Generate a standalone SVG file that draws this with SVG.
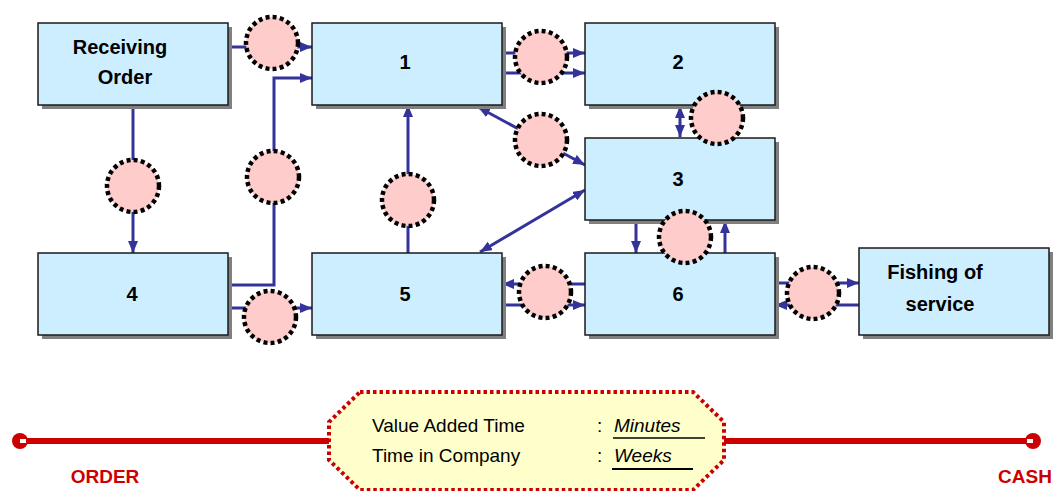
<svg xmlns="http://www.w3.org/2000/svg" width="1056" height="491" viewBox="0 0 1056 491">
  <defs>
    <marker id="arr" viewBox="0 0 12 10" refX="12" refY="5" markerWidth="12" markerHeight="10" markerUnits="userSpaceOnUse" orient="auto-start-reverse">
      <path d="M0,0 L12,5 L0,10 Z" fill="#333399"/>
    </marker>
    <style>
      .shadow { fill: #808080; }
      .box { fill: #cceeff; stroke: #1a1a1a; stroke-width: 1.5; }
      .lbl { font-family: "Liberation Sans", Arial, sans-serif; font-weight: bold; font-size: 20px; fill: #000; text-anchor: middle; }
      .conn { fill: none; stroke: #333399; stroke-width: 3; }
      .wait { fill: #ffcccc; stroke: #000; stroke-width: 4.5; stroke-dasharray: 4 3.2; }
      .legend { font-family: "Liberation Sans", Arial, sans-serif; font-size: 19px; fill: #000; }
      .red { font-family: "Liberation Sans", Arial, sans-serif; font-weight: bold; font-size: 19px; fill: #cc0000; text-anchor: middle; }
    </style>
  </defs>

  <!-- process connectors -->
  <g id="connectors">
    <path class="conn" d="M228,47 H312" marker-end="url(#arr)"/>
    <path class="conn" d="M228,285 H274 V78 H312" marker-end="url(#arr)"/>
    <path class="conn" d="M228,308 H312" marker-end="url(#arr)"/>
    <path class="conn" d="M133,105 V253" marker-end="url(#arr)"/>
    <path class="conn" d="M408,253 V105" marker-end="url(#arr)"/>
    <path class="conn" d="M502,53 H585" marker-end="url(#arr)"/>
    <path class="conn" d="M502,73 H585" marker-end="url(#arr)"/>
    <path class="conn" d="M680,106 V137" marker-start="url(#arr)" marker-end="url(#arr)"/>
    <path class="conn" d="M478,107 L585,165" marker-start="url(#arr)" marker-end="url(#arr)"/>
    <path class="conn" d="M585,190 L480,252" marker-start="url(#arr)" marker-end="url(#arr)"/>
    <path class="conn" d="M636,221 V253" marker-end="url(#arr)"/>
    <path class="conn" d="M725,253 V221" marker-end="url(#arr)"/>
    <path class="conn" d="M585,284 H502" marker-end="url(#arr)"/>
    <path class="conn" d="M502,305 H585" marker-end="url(#arr)"/>
    <path class="conn" d="M775,283 H859" marker-end="url(#arr)"/>
    <path class="conn" d="M859,305 H775" marker-end="url(#arr)"/>
  </g>

  <g id="node-receiving">
    <rect class="shadow" x="42" y="27" width="190" height="82"/>
    <rect class="box" x="38" y="23" width="190" height="82"/>
    <text class="lbl" x="120" y="54">Receiving</text>
    <text class="lbl" x="125" y="84">Order</text>
  </g>
  <g id="node-1">
    <rect class="shadow" x="316" y="27" width="190" height="82"/>
    <rect class="box" x="312" y="23" width="190" height="82"/>
    <text class="lbl" x="405" y="69">1</text>
  </g>
  <g id="node-2">
    <rect class="shadow" x="589" y="27" width="190" height="82"/>
    <rect class="box" x="585" y="23" width="190" height="82"/>
    <text class="lbl" x="678" y="69">2</text>
  </g>
  <g id="node-3">
    <rect class="shadow" x="589" y="142" width="190" height="82"/>
    <rect class="box" x="585" y="138" width="190" height="82"/>
    <text class="lbl" x="678" y="186">3</text>
  </g>
  <g id="node-4">
    <rect class="shadow" x="42" y="257" width="190" height="82"/>
    <rect class="box" x="38" y="253" width="190" height="82"/>
    <text class="lbl" x="132" y="301">4</text>
  </g>
  <g id="node-5">
    <rect class="shadow" x="316" y="257" width="190" height="82"/>
    <rect class="box" x="312" y="253" width="190" height="82"/>
    <text class="lbl" x="405" y="301">5</text>
  </g>
  <g id="node-6">
    <rect class="shadow" x="589" y="257" width="190" height="82"/>
    <rect class="box" x="585" y="253" width="190" height="82"/>
    <text class="lbl" x="678" y="301">6</text>
  </g>
  <g id="node-fishing">
    <rect class="shadow" x="863" y="252" width="190" height="87"/>
    <rect class="box" x="859" y="248" width="190" height="87"/>
    <text class="lbl" x="935" y="279">Fishing of</text>
    <text class="lbl" x="940" y="311">service</text>
  </g>

  <!-- waiting points -->
  <g id="waits">
    <circle class="wait" cx="272" cy="43" r="26"/>
    <circle class="wait" cx="541" cy="57" r="26"/>
    <circle class="wait" cx="717" cy="118" r="26"/>
    <circle class="wait" cx="541" cy="140" r="26"/>
    <circle class="wait" cx="133" cy="186" r="26"/>
    <circle class="wait" cx="273" cy="177" r="26"/>
    <circle class="wait" cx="408" cy="200" r="26"/>
    <circle class="wait" cx="270" cy="317" r="26"/>
    <circle class="wait" cx="545" cy="292" r="26"/>
    <circle class="wait" cx="685" cy="237" r="26"/>
    <circle class="wait" cx="813" cy="293" r="26"/>
  </g>

  <!-- order-to-cash timeline -->
  <g id="timeline">
    <line x1="20" y1="441" x2="1033" y2="441" stroke="#cc0000" stroke-width="6"/>
    <circle cx="20" cy="441" r="8" fill="#cc0000"/>
    <rect x="20" y="439" width="6" height="4" fill="#fff"/>
    <circle cx="1033" cy="441" r="8" fill="#cc0000"/>
    <rect x="1027" y="439" width="6" height="4" fill="#fff"/>
    <text class="red" x="105" y="483">ORDER</text>
    <text class="red" x="1025" y="483">CASH</text>
  </g>

  <g id="legend">
    <path d="M360,392 H693 L724,422 V460 L693,490 H360 L329,460 V422 Z" fill="#ffffcc" stroke="#cc0000" stroke-width="4" stroke-dasharray="3.5 3"/>
    <text class="legend" x="372" y="432">Value Added Time</text>
    <text class="legend" x="372" y="462">Time in Company</text>
    <text class="legend" x="597" y="432">:</text>
    <text class="legend" x="597" y="462">:</text>
    <text class="legend" x="614" y="432" font-style="italic">Minutes</text>
    <text class="legend" x="614" y="462" font-style="italic">Weeks</text>
    <line x1="613" y1="438" x2="705" y2="438" stroke="#000" stroke-width="1.5"/>
    <line x1="612" y1="469" x2="693" y2="469" stroke="#000" stroke-width="2"/>
  </g>
</svg>
